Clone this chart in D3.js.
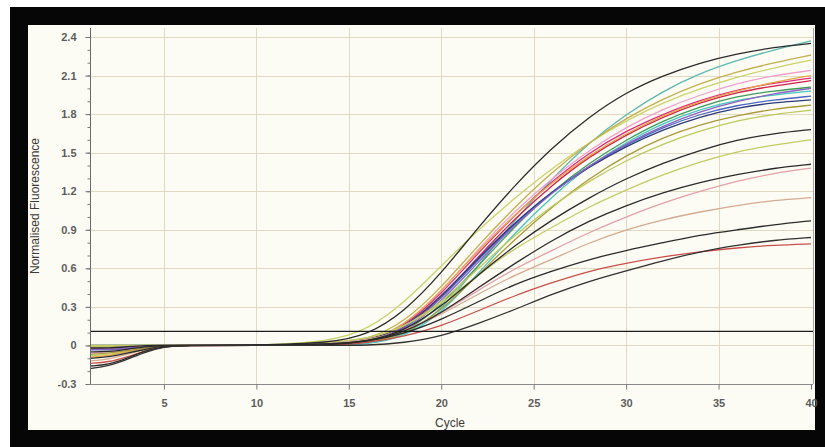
<!DOCTYPE html>
<html>
<head>
<meta charset="utf-8">
<script src="https://cdn.jsdelivr.net/npm/d3@7"></script>
<style>
  html, body { margin: 0; padding: 0; background: #fff; }
  svg { display: block; }
</style>
</head>
<body>
<script>
// sampled cycles shared by every trace
const cycles = [1, 2, 3, 4, 5, 6, 10, 14, 16, 18, 20, 22, 24, 26, 28, 30, 32, 34, 36, 38, 40]

// normalised fluorescence per well
const k1 = [-0.02, -0.02, -0.01, 0, 0, 0, 0, 0.02, 0.08, 0.26, 0.56, 0.92, 1.25, 1.54, 1.78, 1.97, 2.1, 2.2, 2.27, 2.32, 2.35]
const t1 = [0, 0, 0, 0, 0, 0, 0, 0, 0.01, 0.07, 0.27, 0.62, 0.98, 1.3, 1.58, 1.8, 1.98, 2.12, 2.22, 2.3, 2.37]
const yg1 = [-0.08, -0.07, -0.05, -0.02, 0, 0, 0, 0.03, 0.12, 0.33, 0.62, 0.9, 1.15, 1.38, 1.58, 1.75, 1.89, 2.0, 2.09, 2.16, 2.22]
const o1 = [-0.01, -0.01, 0, 0, 0, 0, 0, 0.01, 0.04, 0.18, 0.45, 0.78, 1.08, 1.35, 1.58, 1.77, 1.92, 2.04, 2.13, 2.2, 2.26]
const p1 = [-0.06, -0.05, -0.03, -0.01, 0, 0, 0, 0.01, 0.03, 0.15, 0.42, 0.75, 1.05, 1.3, 1.52, 1.7, 1.84, 1.95, 2.04, 2.1, 2.14]
const m1 = [-0.03, -0.03, -0.02, -0.01, 0, 0, 0, 0.01, 0.03, 0.14, 0.4, 0.72, 1.02, 1.28, 1.5, 1.67, 1.8, 1.91, 1.99, 2.04, 2.08]
const c1 = [0, 0, 0, 0, 0, 0, 0, 0, 0.02, 0.12, 0.37, 0.69, 0.99, 1.25, 1.47, 1.64, 1.78, 1.89, 1.97, 2.02, 2.06]
const or1 = [-0.09, -0.08, -0.05, -0.02, 0, 0, 0, 0.01, 0.03, 0.15, 0.42, 0.74, 1.02, 1.27, 1.48, 1.65, 1.79, 1.9, 1.98, 2.05, 2.1]
const g1 = [-0.01, -0.01, 0, 0, 0, 0, 0, 0, 0.02, 0.09, 0.31, 0.62, 0.93, 1.2, 1.42, 1.6, 1.75, 1.86, 1.94, 1.98, 2.01]
const t2 = [0, 0, 0, 0, 0, 0, 0, 0, 0.01, 0.06, 0.25, 0.56, 0.88, 1.16, 1.4, 1.58, 1.73, 1.84, 1.91, 1.95, 1.98]
const b1 = [-0.035, -0.035, -0.025, -0.01, 0, 0, 0, 0.01, 0.03, 0.11, 0.36, 0.67, 0.95, 1.2, 1.4, 1.56, 1.7, 1.8, 1.87, 1.91, 1.94]
const n1 = [-0.02, -0.02, -0.01, 0, 0, 0, 0, 0.01, 0.04, 0.13, 0.38, 0.68, 0.96, 1.2, 1.39, 1.55, 1.68, 1.78, 1.85, 1.89, 1.91]
const pu1 = [-0.03, -0.03, -0.02, -0.01, 0, 0, 0, 0.01, 0.03, 0.1, 0.34, 0.65, 0.94, 1.19, 1.4, 1.57, 1.71, 1.82, 1.9, 1.96, 2.0]
const o2 = [-0.07, -0.06, -0.04, -0.02, 0, 0, 0, 0, 0.02, 0.08, 0.27, 0.55, 0.83, 1.08, 1.3, 1.48, 1.62, 1.72, 1.79, 1.84, 1.87]
const yg2 = [-0.01, -0.01, 0, 0, 0, 0, 0, 0.02, 0.05, 0.14, 0.33, 0.6, 0.86, 1.09, 1.28, 1.44, 1.57, 1.67, 1.75, 1.8, 1.83]
const yg3 = [0, 0, 0, 0, 0, 0, 0, 0.02, 0.05, 0.14, 0.32, 0.55, 0.76, 0.92, 1.08, 1.21, 1.33, 1.43, 1.51, 1.56, 1.6]
const pk1 = [-0.02, -0.02, -0.01, 0, 0, 0, 0, 0.01, 0.04, 0.11, 0.25, 0.43, 0.6, 0.74, 0.88, 1.0, 1.11, 1.2, 1.28, 1.34, 1.38]
const tn1 = [-0.12, -0.11, -0.07, -0.03, -0.01, 0, 0, 0.01, 0.04, 0.11, 0.24, 0.4, 0.55, 0.67, 0.8, 0.9, 0.98, 1.04, 1.09, 1.13, 1.15]
const rd1 = [-0.14, -0.13, -0.09, -0.04, -0.01, 0, 0, 0, 0.02, 0.07, 0.15, 0.27, 0.39, 0.49, 0.58, 0.64, 0.69, 0.73, 0.76, 0.78, 0.79]
const k2 = [-0.1, -0.09, -0.06, -0.03, 0, 0, 0, 0.01, 0.03, 0.11, 0.3, 0.55, 0.78, 0.98, 1.15, 1.3, 1.42, 1.52, 1.6, 1.65, 1.68]
const k3 = [-0.16, -0.15, -0.1, -0.04, -0.01, 0, 0, 0, 0.03, 0.1, 0.25, 0.45, 0.64, 0.82, 0.97, 1.09, 1.19, 1.27, 1.33, 1.38, 1.41]
const k4 = [-0.05, -0.05, -0.03, -0.01, 0, 0, 0, 0.01, 0.03, 0.09, 0.2, 0.34, 0.48, 0.58, 0.67, 0.74, 0.8, 0.86, 0.9, 0.94, 0.97]
const k5 = [-0.18, -0.16, -0.11, -0.05, -0.01, 0, 0, 0, 0, 0.02, 0.07, 0.17, 0.28, 0.4, 0.5, 0.58, 0.66, 0.73, 0.78, 0.82, 0.84]

const threshold = 0.11

const xTicks = [5, 10, 15, 20, 25, 30, 35, 40]
const yTicks = [-0.3, 0, 0.3, 0.6, 0.9, 1.2, 1.5, 1.8, 2.1, 2.4]

// colored wells first, black wells drawn over them
const traces = [
  [t1, '#5cb8ae'], [yg1, '#c9d36a'], [o1, '#c2b04e'], [p1, '#f0a0cf'],
  [m1, '#e02c7d'], [c1, '#d0204f'], [or1, '#e6a548'], [g1, '#3e9a5c'],
  [t2, '#45c6c0'], [b1, '#4a66c4'], [n1, '#2c3a7c'], [pu1, '#8a62c2'],
  [o2, '#aa9a3c'], [yg2, '#bdc95e'], [yg3, '#c3cc64'], [pk1, '#e2a0a8'],
  [tn1, '#d4aa92'], [rd1, '#c8504a'],
  [k1, '#2b2b2b'], [k2, '#2b2b2b'], [k3, '#2b2b2b'], [k4, '#2b2b2b'], [k5, '#333030']
]

const W = 825
const H = 447

const svg = d3.select('body').append('svg')
  .attr('width', W)
  .attr('height', H)

// black frame + cream panel
svg.append('rect').attr('x', 10).attr('y', 7).attr('width', W - 10).attr('height', H - 7).attr('fill', '#060606')
svg.append('rect').attr('x', 28).attr('y', 25).attr('width', 787).attr('height', 405).attr('fill', '#fdfcf4')

const x = d3.scaleLinear().domain([1, 40]).range([90, 811])
const y = d3.scaleLinear().domain([-0.3, 2.47]).range([384, 28])

const grid = svg.append('g').attr('stroke', '#e2d9c2').attr('stroke-width', 1)
grid.selectAll('.gx').data(xTicks.slice(0, -1)).join('line')
  .attr('x1', d => Math.round(x(d)) + 0.5).attr('x2', d => Math.round(x(d)) + 0.5)
  .attr('y1', y.range()[1]).attr('y2', y.range()[0])
grid.selectAll('.gy').data(yTicks).join('line')
  .attr('x1', 90).attr('x2', 813)
  .attr('y1', d => Math.round(y(d)) + 0.5).attr('y2', d => Math.round(y(d)) + 0.5)

// right border
svg.append('line')
  .attr('x1', 813.5).attr('x2', 813.5).attr('y1', 28).attr('y2', 384)
  .attr('stroke', '#a8a49a')

const line = d3.line()
  .x((d, i) => x(cycles[i]))
  .y(d => y(d))
  .curve(d3.curveBasis)

const defs = svg.append('defs')
defs.append('filter').attr('id', 'soft')
  .append('feGaussianBlur').attr('stdDeviation', 0.3)

svg.append('g')
  .attr('fill', 'none')
  .attr('stroke-width', 1.3)
  .attr('filter', 'url(#soft)')
  .selectAll('path')
  .data(traces)
  .join('path')
  .attr('stroke', d => d[1])
  .attr('d', d => line(d[0]))

// threshold
svg.append('line')
  .attr('x1', 90).attr('x2', 813)
  .attr('y1', y(threshold)).attr('y2', y(threshold))
  .attr('stroke', '#1c1c1c').attr('stroke-width', 1.3)

const font = '"Liberation Sans", Arial, sans-serif'

// y axis
const yAxis = svg.append('g')
  .attr('transform', 'translate(90.5,0)')
  .call(d3.axisLeft(y).tickValues(yTicks).tickSize(5).tickPadding(9)
    .tickFormat(d => d === 0 ? '0' : d.toFixed(1).replace('\u2212', '-')))
yAxis.select('.domain').attr('stroke', '#6a6a6a').attr('d', `M0,${y.range()[1]}V${y.range()[0]}`)
yAxis.selectAll('.tick line').attr('stroke', '#6a6a6a')
yAxis.selectAll('text').attr('font-family', font).attr('font-size', 11).attr('font-weight', 'bold').attr('fill', '#5c5c5c')

svg.append('g')
  .attr('transform', 'translate(90.5,0)')
  .call(d3.axisLeft(y).tickValues(d3.range(-3, 25).map(i => i / 10)).tickSize(3).tickFormat(''))
  .call(g => g.select('.domain').remove())
  .selectAll('.tick line').attr('stroke', '#7a7a7a')

// x axis
const xAxis = svg.append('g')
  .attr('transform', 'translate(0,384.5)')
  .call(d3.axisBottom(x).tickValues(xTicks).tickSize(5).tickPadding(10))
xAxis.select('.domain').attr('stroke', '#8a8a8a').attr('d', 'M90,0H813')
xAxis.selectAll('.tick line').attr('stroke', '#7a7a7a')
xAxis.selectAll('text').attr('font-family', font).attr('font-size', 11).attr('font-weight', 'bold').attr('fill', '#5c5c5c')

svg.append('text')
  .attr('x', 450).attr('y', 427)
  .attr('text-anchor', 'middle')
  .attr('font-family', font).attr('font-size', 12).attr('fill', '#3a3a3a')
  .text('Cycle')

svg.append('text')
  .attr('transform', 'translate(39,206) rotate(-90)')
  .attr('text-anchor', 'middle')
  .attr('font-family', font).attr('font-size', 12).attr('fill', '#3a3a3a')
  .text('Normalised Fluorescence')
</script>
</body>
</html>
